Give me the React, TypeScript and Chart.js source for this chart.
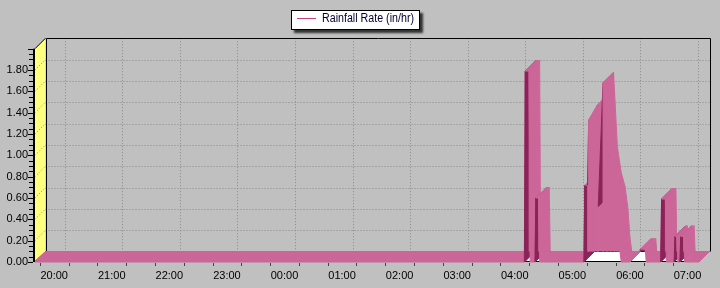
import React, { useEffect, useRef } from 'react';
import { Chart, registerables } from 'chart.js';

Chart.register(...registerables);

// ---- data ----
const axisStart = '19:40';
const axisEnd = '07:12';
const hourLabels = ['20:00', '21:00', '22:00', '23:00', '00:00', '01:00', '02:00', '03:00', '04:00', '05:00', '06:00', '07:00'];
const rateTickLabels = ['0.00', '0.20', '0.40', '0.60', '0.80', '1.00', '1.20', '1.40', '1.60', '1.80'];
const rateMax = 2.0;
const seriesName = 'Rainfall Rate (in/hr)';

const rainTimes = [
  '19:40', '04:10', '04:11', '04:15', '04:16', '04:21', '04:22', '04:25', '04:26',
  '05:12', '05:13', '05:16', '05:17', '05:26', '05:27', '05:32', '05:36', '05:40', '05:44', '05:47', '05:49', '05:51',
  '06:00', '06:11', '06:16', '06:17',
  '06:32', '06:33', '06:37', '06:38', '06:46', '06:47', '06:49', '06:50', '06:52', '06:53', '06:56', '06:57', '07:12',
];
const rainRates = [
  0, 0, 1.79, 1.79, 0, 0, 0.60, 0.60, 0,
  0, 0.72, 0.72, 1.33, 1.47, 0.52, 1.68, 0.98, 0.74, 0.61, 0.40, 0.14, 0,
  0, 0.12, 0.12, 0,
  0, 0.59, 0.59, 0, 0, 0.24, 0.24, 0, 0, 0.24, 0.24, 0, 0,
];

// ---- styles ----
const DEPTH = 10.5;
const PINK = '#CC6699';
const DARK = '#8B2358';
const WALL = '#FFFF80';
const GRID = '#8a8a8a';
const FONT = "'Liberation Sans', Arial, Helvetica, sans-serif";

function toMinutes(t: string): number {
  const [h, m] = t.split(':').map(Number);
  const hh = h < 12 ? h + 24 : h;
  return (hh - 20) * 60 + m;
}

function poly(ctx: CanvasRenderingContext2D, pts: number[][], fill: string, stroke?: string) {
  ctx.beginPath();
  ctx.moveTo(pts[0][0], pts[0][1]);
  for (let i = 1; i < pts.length; i++) ctx.lineTo(pts[i][0], pts[i][1]);
  ctx.closePath();
  ctx.fillStyle = fill;
  ctx.fill();
  if (stroke) {
    ctx.strokeStyle = stroke;
    ctx.stroke();
  }
}

function line(ctx: CanvasRenderingContext2D, x1: number, y1: number, x2: number, y2: number) {
  ctx.beginPath();
  ctx.moveTo(x1, y1);
  ctx.lineTo(x2, y2);
  ctx.stroke();
}

const threeD = {
  id: 'threeD',
  beforeDatasetsDraw(chart: any) {
    const { ctx, chartArea: a, scales } = chart;
    const x = scales.x, y = scales.y;
    const L = a.left, R = a.right, T = a.top, B = a.bottom;
    const D = DEPTH;
    ctx.save();
    poly(ctx, [[L, B], [L, T], [L + D, T - D], [L + D, B - D]], WALL);
    ctx.lineWidth = 1;
    ctx.strokeStyle = GRID;
    ctx.setLineDash([1, 2]);
    const yVals = rateTickLabels.map(Number).filter((v) => v > 0);
    for (const v of yVals) {
      const py = y.getPixelForValue(v);
      const pb = Math.round(py - D) + 0.5;
      line(ctx, L + D, pb, R + D, pb);
      line(ctx, L, py, L + D, py - D);
    }
    for (const h of hourLabels) {
      const px = Math.round(x.getPixelForValue(toMinutes(h)) + D) + 0.5;
      line(ctx, px, T - D, px, B - D);
    }
    ctx.setLineDash([]);
    ctx.strokeStyle = '#000';
    const top = Math.round(T - D) + 0.5;
    const rx = Math.round(R + D) + 0.5;
    const lx = Math.round(L + D) + 0.5;
    line(ctx, lx, top, rx, top);
    line(ctx, rx, top, rx, B - D);
    line(ctx, lx, top, lx, B - D);
    line(ctx, L, T, L + D, T - D);
    poly(ctx, [[L, B - 0.5], [R, B - 0.5], [R + D, B - D], [L + D, B - D]], '#FFFFFF', '#000');
    ctx.restore();
  },
  afterDatasetsDraw(chart: any) {
    const { ctx, chartArea: a, scales } = chart;
    const x = scales.x, y = scales.y;
    const L = a.left, T = a.top, B = a.bottom;
    const D = DEPTH;
    const meta = chart.getDatasetMeta(0);
    const pts = meta.data.map((e: any) => ({ x: e.x, y: e.y }));
    const y0 = y.getPixelForValue(0);
    const yb = y0 - D;
    ctx.save();
    ctx.lineWidth = 1;
    ctx.lineJoin = 'bevel';
    for (let i = 0; i < pts.length - 1; i++) {
      const p = pts[i], q = pts[i + 1];
      const w = q.x - p.x;
      if (Math.min(p.y, q.y) < yb - 0.01) {
        const flat = Math.abs(q.y - p.y) <= 0.35 * w;
        const fc = flat ? DARK : PINK;
        ctx.save();
        ctx.beginPath();
        ctx.rect(0, 0, chart.width, yb);
        ctx.clip();
        poly(ctx, [[p.x, y0], [p.x, p.y], [q.x, q.y], [q.x, y0]], fc, fc);
        ctx.restore();
      }
      const steep = p.y - q.y > 3 * w;
      const c = steep ? DARK : PINK;
      poly(ctx, [[p.x, p.y], [q.x, q.y], [q.x + D, q.y - D], [p.x + D, p.y - D]], c, c);
    }
    ctx.fillStyle = '#000';
    ctx.fillRect(Math.round(L) - 2, T, 2, B - T);
    ctx.strokeStyle = '#000';
    const n = Math.round(rateMax / 0.05);
    for (let i = 0; i <= n; i++) {
      const py = Math.round(y.getPixelForValue(i * 0.05)) + 0.5;
      const len = i % 4 === 0 ? 5 : 4;
      line(ctx, Math.round(L) - 2 - len, py, Math.round(L) - 2, py);
    }
    ctx.strokeStyle = '#444';
    const xmin = toMinutes(axisStart), xmax = toMinutes(axisEnd);
    for (let m = -15; m <= xmax; m += 30) {
      if (m < xmin) continue;
      const px = Math.round(x.getPixelForValue(m)) + 0.5;
      line(ctx, px, B + 1, px, B + 4);
    }
    ctx.restore();
  },
};

export default function App() {
  const ref = useRef<HTMLCanvasElement>(null);
  useEffect(() => {
    const points = rainTimes.map((t, i) => ({ x: toMinutes(t), y: rainRates[i] }));
    const chart = new Chart(ref.current as HTMLCanvasElement, {
      type: 'line',
      data: {
        datasets: [
          {
            label: seriesName,
            data: points,
            borderWidth: 0,
            pointRadius: 0,
            showLine: false,
            fill: false,
          } as any,
        ],
      },
      options: {
        animation: false,
        responsive: false,
        devicePixelRatio: 1,
        events: [],
        layout: { padding: { top: 48.7, right: 21, bottom: 0, left: 0 } },
        plugins: { legend: { display: false }, tooltip: { enabled: false } },
        scales: {
          x: {
            type: 'linear',
            min: toMinutes(axisStart),
            max: toMinutes(axisEnd),
            grid: { display: false, drawTicks: false },
            border: { display: false },
            afterBuildTicks: (s: any) => {
              s.ticks = hourLabels.map((h) => ({ value: toMinutes(h) }));
            },
            afterFit: (s: any) => {
              s.height = 26;
            },
            ticks: {
              autoSkip: false,
              maxRotation: 0,
              padding: 7,
              color: '#000',
              font: { family: FONT, size: 11 },
              callback: (v: any) => {
                const idx = hourLabels.findIndex((h) => toMinutes(h) === v);
                return idx >= 0 ? hourLabels[idx] : '';
              },
            },
          },
          y: {
            type: 'linear',
            min: 0,
            max: rateMax,
            grid: { display: false, drawTicks: false },
            border: { display: false },
            afterBuildTicks: (s: any) => {
              s.ticks = rateTickLabels.map((v) => ({ value: Number(v) }));
            },
            afterFit: (s: any) => {
              s.width = 35;
            },
            ticks: {
              padding: 7,
              color: '#000',
              font: { family: FONT, size: 11 },
              callback: (v: any) => Number(v).toFixed(2),
            },
          },
        },
      },
      plugins: [threeD],
    });
    return () => chart.destroy();
  }, []);

  return (
    <div style={{ position: 'absolute', left: 0, top: 0, width: 720, height: 288, background: '#C0C0C0', overflow: 'hidden' }}>
      <canvas ref={ref} width={720} height={288} style={{ position: 'absolute', left: 0, top: 0, width: 720, height: 288 }} />
      <div
        style={{
          position: 'absolute',
          left: 291,
          top: 10,
          width: 129,
          height: 20,
          boxSizing: 'border-box',
          border: '1px solid #000',
          background: '#fff',
          boxShadow: '3px 3px 2px #333',
        }}
      >
        <div style={{ position: 'absolute', left: 5, top: 7, width: 19, height: 1, background: '#C8407F' }} />
        <span
          style={{
            position: 'absolute',
            left: 30,
            top: -1,
            fontFamily: FONT,
            fontSize: 12,
            lineHeight: '16px',
            color: '#000033',
            whiteSpace: 'nowrap',
            transform: 'scaleX(0.89)',
            transformOrigin: '0 0',
          }}
        >
          {seriesName}
        </span>
      </div>
    </div>
  );
}
